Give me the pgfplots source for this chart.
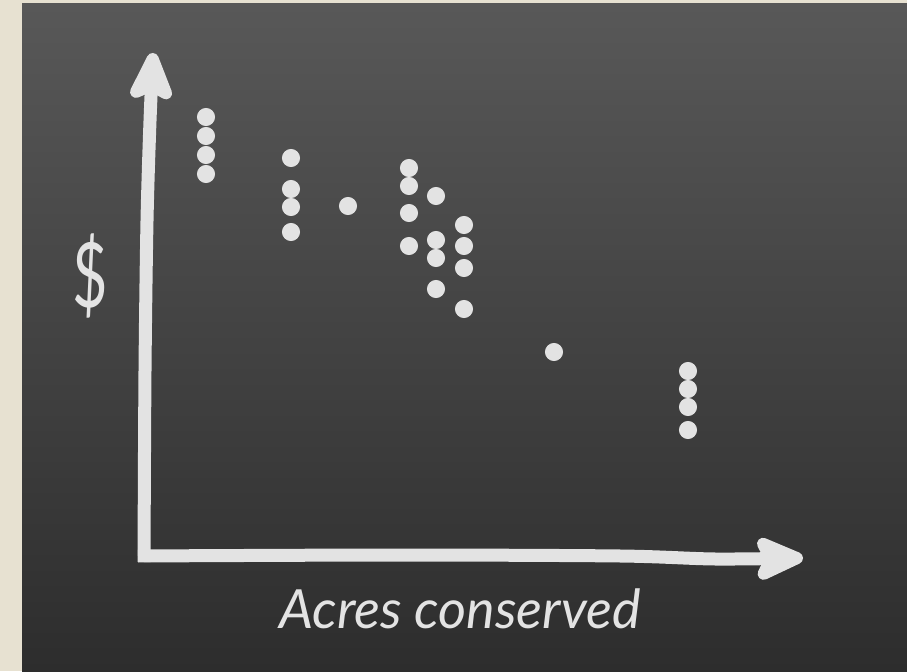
\documentclass[border=0pt]{standalone}
\usepackage{pgfplots}
\pgfplotsset{compat=1.18}
\usepackage{fontspec}
\setmainfont{Lato}
\usetikzlibrary{arrows.meta}
\definecolor{beige}{HTML}{E7E1D1}
\definecolor{boardtop}{HTML}{585858}
\definecolor{boardmid}{HTML}{4C4C4C}
\definecolor{boardbot}{HTML}{2D2D2D}
\definecolor{chalk}{HTML}{E3E3E3}
\begin{document}
\begin{tikzpicture}
\begin{axis}[
  x=0.5pt, y=0.5pt,
  xmin=0, xmax=907, ymin=0, ymax=671,
  hide axis, clip=false,
]
% background
\fill[beige] (axis cs:0,0) rectangle (axis cs:907,671);
\fill[top color=boardtop, middle color=boardmid, bottom color=boardbot]
  (axis cs:22,0) rectangle (axis cs:907,667);
% chalk axes
\addplot[chalk, line width=6.5pt, smooth, line join=round,
  -{Stealth[length=30pt,width=26pt,inset=6pt,round]}]
  coordinates {(144,109) (145,300) (147,450) (150,550) (153,618)};
\addplot[chalk, line width=6.5pt, smooth, line join=round,
  -{Stealth[length=30pt,width=26pt,inset=6pt,round]}]
  coordinates {(138,115) (400,116) (620,115) (715,112) (803,113)};
% data points
\addplot[only marks, mark=*, mark size=4.3pt, color=chalk, mark options={fill=chalk, draw=chalk}]
  coordinates {
  (206,554) (206,535) (206,516) (206,497)
  (291,513) (291,482) (291,464) (291,439)
  (348,465)
  (409,503) (409,485) (409,458) (409,425)
  (436,475) (436,431) (436,413) (436,382)
  (464,446) (464,425) (464,403) (464,362)
  (554,319)
  (688,300) (688,282) (688,264) (688,241)
  };
% labels
\node[text=chalk, font=\fontsize{27}{32}\selectfont\itshape] at (axis cs:460,62) {Acres conserved};
\node[text=chalk, font=\fontsize{36}{40}\selectfont, xscale=0.85, yscale=1.25] at (axis cs:90,395) {\$};
\end{axis}
\end{tikzpicture}
\end{document}
